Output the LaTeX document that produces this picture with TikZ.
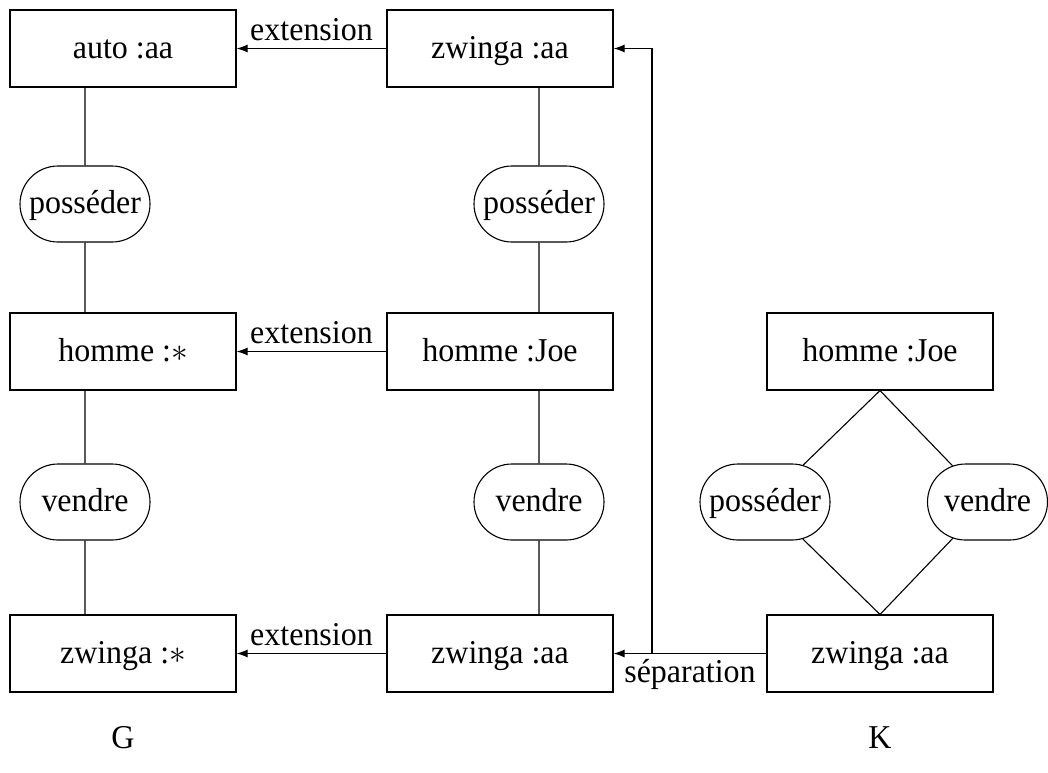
\RequirePackage{fix-cm}
\documentclass[tikz,border=0pt]{standalone}
\usepackage{fontspec}
\setmainfont[FakeStretch=0.96]{Liberation Serif}
\usetikzlibrary{shapes.misc,arrows.meta}

\begin{document}
\begin{tikzpicture}[x=1pt,y=-1pt,
  every node/.style={font=\fontsize{33.3}{40}\selectfont},
  concept/.style={draw, line width=1.1pt, minimum width=226pt, minimum height=77pt, inner sep=0pt, text height=25pt, text depth=6pt},
  relation/.style={draw, line width=1.1pt, rounded rectangle, minimum width=130pt, minimum height=76pt, inner sep=0pt, text height=25pt, text depth=6pt},
  link/.style={line width=1.1pt},
  arr/.style={line width=1.1pt, -{Latex[length=11pt,width=8pt]}}]
  \useasboundingbox (0,0) rectangle (1048,772);

  % graph G and its projection
  \node[concept] (autoL) at (123,48.5) {auto :aa};
  \node[concept] (zaT) at (500,48.5) {zwinga :aa};
  \node[relation] (posL) at (85,204) {posséder};
  \node[relation] (posM) at (539,204) {posséder};
  \node[concept] (hommeL) at (123,351.5) {homme :$\ast$};
  \node[concept] (hommeJ) at (500,351.5) {homme :Joe};
  \node[relation] (venL) at (85,502) {vendre};
  \node[relation] (venM) at (539,502) {vendre};
  \node[concept] (zwL) at (123,653.5) {zwinga :$\ast$};
  \node[concept] (zaB) at (500,653.5) {zwinga :aa};

  % graph K
  \node[concept] (hjK) at (880,351.5) {homme :Joe};
  \node[concept] (zaK) at (880,653.5) {zwinga :aa};
  \node[relation] (posK) at (765,502) {posséder};
  \node[relation, minimum width=120pt] (venK) at (987.5,502) {vendre};

  % edges of G
  \draw[link] (autoL.south -| posL) -- (posL);
  \draw[link] (posL) -- (hommeL.north -| posL);
  \draw[link] (hommeL.south -| posL) -- (venL);
  \draw[link] (venL) -- (zwL.north -| venL);
  \draw[link] (zaT.south -| posM) -- (posM);
  \draw[link] (posM) -- (hommeJ.north -| posM);
  \draw[link] (hommeJ.south -| posM) -- (venM);
  \draw[link] (venM) -- (zaB.north -| venM);

  % edges of K
  \draw[link] (hjK.south) -- (posK);
  \draw[link] (hjK.south) -- (venK);
  \draw[link] (posK) -- (zaK.north);
  \draw[link] (venK) -- (zaK.north);

  % extension and separation arrows
  \draw[arr] (zaT.west) -- node[above=4pt] {extension} (autoL.east);
  \draw[arr] (hommeJ.west) -- node[above=4pt] {extension} (hommeL.east);
  \draw[arr] (zaB.west) -- node[above=4pt] {extension} (zwL.east);
  \coordinate (split) at (652,653.5);
  \draw[arr] (zaK.west) -- node[below=2pt] {séparation} (zaB.east);
  \draw[arr] (split) |- (zaT.east);

  \node (labG) at (123,738) {G};
  \node (labK) at (880,738) {K};
\end{tikzpicture}
\end{document}
